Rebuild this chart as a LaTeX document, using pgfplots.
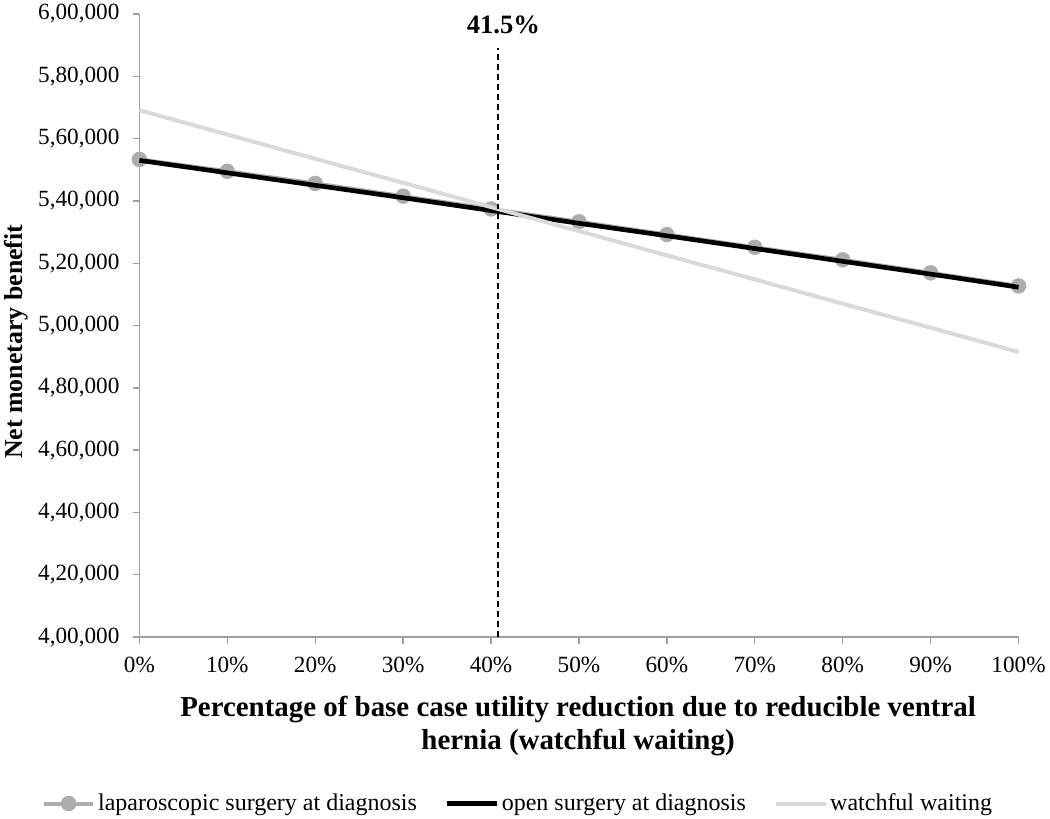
\documentclass[border=0pt]{standalone}
\usepackage{pgfplots}
\pgfplotsset{compat=1.18}
\usepackage{fontspec}
\setmainfont{Liberation Serif}
\definecolor{lapgray}{RGB}{172,172,172}
\definecolor{wwgray}{RGB}{218,218,218}
\definecolor{axgray}{RGB}{160,160,160}
\begin{document}
\begin{tikzpicture}
\begin{axis}[
  set layers,
  scale only axis, width=663pt, height=470pt,
  xmin=0, xmax=100, ymin=400000, ymax=600000,
  clip=false, scaled y ticks=false,
  axis x line*=bottom, axis y line*=left,
  axis line style={axgray, line width=1pt},
  tick style={axgray, line width=1pt},
  tick align=outside, major tick length=5pt,
  xtick={0,10,...,100},
  xticklabels={0\%,10\%,20\%,30\%,40\%,50\%,60\%,70\%,80\%,90\%,100\%},
  ytick={400000,420000,440000,460000,480000,500000,520000,540000,560000,580000,600000},
  yticklabels={{4,00,000},{4,20,000},{4,40,000},{4,60,000},{4,80,000},{5,00,000},{5,20,000},{5,40,000},{5,60,000},{5,80,000},{6,00,000}},
  tick label style={font=\fontsize{17.5}{20}\selectfont, black},
  xticklabel style={yshift=-6.5pt},
  yticklabel style={xshift=-6.5pt},
  xlabel={Percentage of base case utility reduction due to reducible ventral\\hernia (watchful waiting)},
  xlabel style={font=\fontsize{21.8}{24.5}\selectfont\bfseries, align=center,
    at={(axis description cs:0.499,-0.143)}, anchor=center},
  ylabel={Net monetary benefit},
  ylabel style={font=\fontsize{19.5}{22}\selectfont\bfseries,
    at={(axis description cs:-0.14,0.474)}, anchor=center},
  legend style={at={(0.431,-0.267)}, anchor=center, draw=none, legend columns=3,
    font=\fontsize{18.1}{20}\selectfont, inner xsep=0pt,
    nodes={inner xsep=2pt},
    /tikz/every even column/.append style={column sep=19pt}},
  legend image code/.code={\draw[#1, mark repeat=2, mark phase=2] plot coordinates {(0pt,0pt) (18.75pt,0pt) (37.5pt,0pt)};},
]
\addplot[lapgray, line width=3pt, mark=*, mark size=4.3pt, mark options={fill=lapgray, draw=lapgray}]
 coordinates {(0,553300) (10,549500) (20,545600) (30,541500) (40,537400) (50,533300) (60,529200) (70,525100) (80,521100) (90,516900) (100,512700)};
\addlegendentry{laparoscopic surgery at diagnosis}
\addplot[black, line width=3.5pt, mark=none, on layer=axis foreground]
 coordinates {(0,553000) (10,549000) (20,545000) (30,541000) (40,536900) (50,532800) (60,528800) (70,524700) (80,520600) (90,516500) (100,512300)};
\addlegendentry{open surgery at diagnosis}
\addplot[wwgray, line width=3pt, mark=none, on layer=axis foreground]
 coordinates {(0,569100) (10,561300) (20,553500) (30,545800) (40,538000) (50,530300) (60,522500) (70,514800) (80,507000) (90,499300) (100,491500)};
\addlegendentry{watchful waiting}
\addplot[black, dash pattern=on 4.5pt off 3pt, line width=1pt, forget plot, on layer=axis foreground] coordinates {(40.8,400000) (40.8,589000)};
\node[font=\fontsize{20}{22}\selectfont\bfseries] at (axis cs:41.4,596500) {41.5\%};
\end{axis}
\end{tikzpicture}
\end{document}
